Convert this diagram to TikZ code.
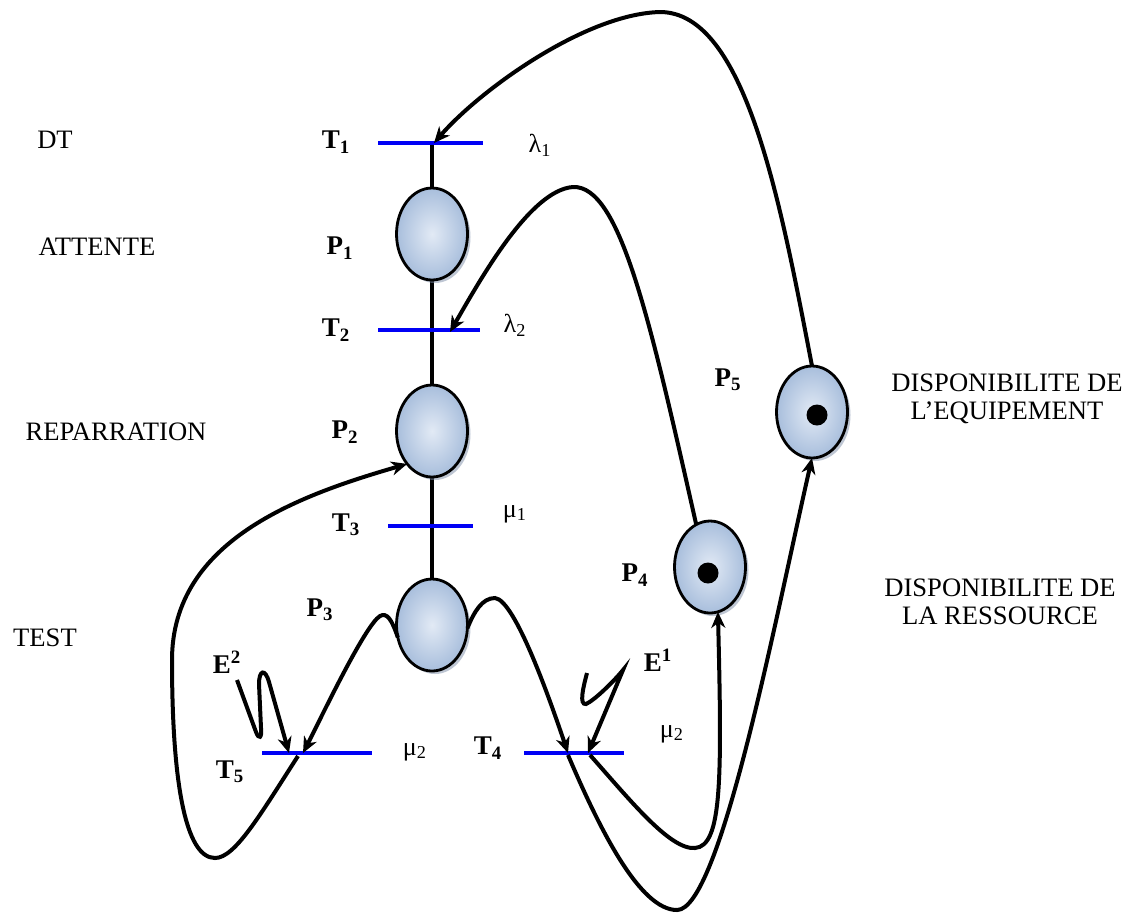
\documentclass[tikz,border=0pt]{standalone}
\usepackage{fontspec}
\setmainfont{Liberation Serif}
\usetikzlibrary{arrows.meta,positioning,calc,shapes.geometric,shadows,backgrounds}
\definecolor{placein}{RGB}{226,234,245}
\definecolor{placeout}{RGB}{168,190,220}
\definecolor{shadowc}{RGB}{125,142,168}
\definecolor{transblue}{RGB}{0,0,245}

\begin{document}
\begin{tikzpicture}[
    x=0.5pt, y=-0.5pt,
    place/.style={ellipse, draw, line width=1.4pt, minimum width=35.5pt, minimum height=46pt, inner sep=0pt, outer sep=0pt, inner color=placein, outer color=placeout, drop shadow={shadow xshift=1.5pt, shadow yshift=-1.5pt, fill=shadowc}},
    trans/.style={fill=transblue, inner sep=0pt, minimum height=2pt},
    tokendot/.style={circle, fill=black, inner sep=0pt, minimum size=10.5pt},
    arc/.style={line width=2pt, -{Stealth[length=8pt, width=7pt, inset=2.5pt]}},
    spine/.style={line width=2pt},
    pname/.style={font=\fontsize{13.5}{15}\selectfont\bfseries},
    ratetext/.style={font=\fontsize{13}{14}\selectfont},
    statetext/.style={font=\fontsize{13.3}{14}\selectfont, align=center}
]
\useasboundingbox (0,0) rectangle (1128,912);

% places and transitions
\node[trans, minimum width=52.5pt] (t1) at (430,143) {};
\node[place] (p1) at (432,234) {};
\node[trans, minimum width=51pt] (t2) at (429,330) {};
\node[place] (p2) at (432,431) {};
\node[trans, minimum width=42.5pt] (t3) at (430,526) {};
\node[place] (p3) at (432,625) {};
\node[trans, minimum width=55pt] (t5) at (317,753) {};
\node[trans, minimum width=50pt] (t4) at (574,753) {};
\node[place] (p4) at (710,567) {};
\node[place] (p5) at (812,412) {};
\node[tokendot] (m4) at (708,573) {};
\node[tokendot] (m5) at (817,415) {};

\begin{scope}[on background layer]
\draw[spine] (p1.north |- t1) -- (p3);
\end{scope}

% arcs
\draw[arc] (p5.north) .. controls (780,200) and (745,12) .. (660,12) .. controls (585,14) and (480,90) .. ($(t1.center)+(4,0)$);
\draw[arc] (p4.108) .. controls (650,320) and (620,185) .. (573,187) .. controls (530,190) and (480,280) .. ($(t2.center)+(21,2)$);
\draw[arc] ($(t5.center)+(-19,3)$) .. controls (260,815) and (235,858) .. (215,858) .. controls (185,858) and (172,780) .. (172,660) .. controls (172,540) and (300,495) .. (p2.233);
\draw[arc] (p3.200) .. controls (392,620) and (387,612) .. (380,616) .. controls (365,625) and (320,720) .. ($(t5.center)+(-14,0)$);
\draw[arc] (p3.355) .. controls (474,612) and (482,598) .. (495,598) .. controls (515,600) and (550,700) .. ($(t4.center)+(-6,0)$);
\draw[arc] ($(t4.center)+(-6,2)$) .. controls (600,830) and (640,910) .. (677,910) .. controls (720,910) and (775,620) .. (p5.south);
\draw[arc] ($(t4.center)+(16,2)$) .. controls (630,800) and (670,850) .. (695,848) .. controls (722,846) and (722,780) .. (p4.280);

% external events
\coordinate (e2) at (237,680);
\coordinate (e1) at (587,673);
\draw[arc] (e2) -- (256,732) .. controls (259,740) and (262,738) .. (261,728) -- (259,684) .. controls (259,670) and (265,668) .. (269,682) -- ($(t5.center)+(-28,0)$);
\draw[arc] (e1) .. controls (583,688) and (579,705) .. (586,704) .. controls (595,700) and (615,680) .. (623,670) -- ($(t4.center)+(14,0)$);

% labels
\node[pname] (lt1) at (336,142) {T\textsubscript{1}};
\node[pname] (lp1) at (340,248) {P\textsubscript{1}};
\node[pname] (lt2) at (336,330) {T\textsubscript{2}};
\node[pname] (lp2) at (345,432) {P\textsubscript{2}};
\node[pname] (lt3) at (346,525) {T\textsubscript{3}};
\node[pname] (lp3) at (320,610) {P\textsubscript{3}};
\node[pname] (le2) at (227,662) {E\textsuperscript{2}};
\node[pname] (lt5) at (230,772) {T\textsubscript{5}};
\node[pname] (lt4) at (488,748) {T\textsubscript{4}};
\node[pname] (lp4) at (635,575) {P\textsubscript{4}};
\node[pname] (le1) at (658,660) {E\textsuperscript{1}};
\node[pname] (lp5) at (728,380) {P\textsubscript{5}};

\node[ratetext] (r1) at (540,145) {λ\textsubscript{1}};
\node[ratetext] (r2) at (515,325) {λ\textsubscript{2}};
\node[ratetext] (r3) at (515,514) {μ\textsubscript{1}};
\node[ratetext] (r5) at (415,752) {μ\textsubscript{2}};
\node[ratetext] (r4) at (672,734) {μ\textsubscript{2}};

\node[statetext] at (55,140) {DT};
\node[statetext] at (97,247) {ATTENTE};
\node[statetext] at (116,432) {REPARRATION};
\node[statetext] at (45,638) {TEST};
\node[statetext] at (1007,399) {DISPONIBILITE DE\\L’EQUIPEMENT};
\node[statetext] at (1000,602) {DISPONIBILITE DE\\LA RESSOURCE};
\end{tikzpicture}
\end{document}
